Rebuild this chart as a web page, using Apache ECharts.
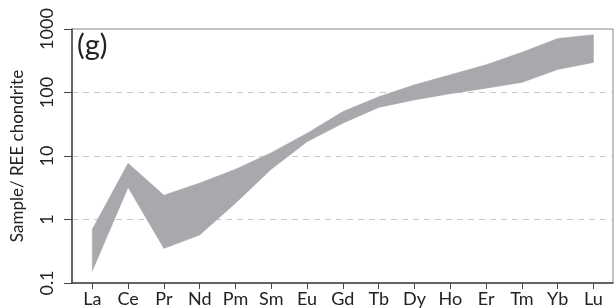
<!DOCTYPE html>
<html>
<head>
<meta charset="utf-8">
<script src="https://cdn.jsdelivr.net/npm/echarts@6/dist/echarts.min.js"></script>
<style>
  html, body { margin: 0; padding: 0; background: #fff; }
  #chart { width: 614px; height: 308px; }
</style>
</head>
<body>
<div id="chart"></div>
<script>
// REE pattern envelope, chondrite normalised
const elements = ['La', 'Ce', 'Pr', 'Nd', 'Pm', 'Sm', 'Eu', 'Gd', 'Tb', 'Dy', 'Ho', 'Er', 'Tm', 'Yb', 'Lu'];
const upperEnvelope = [0.70, 7.7, 2.42, 3.75, 6.2, 11.3, 22.8, 50, 86, 132, 190, 273, 430, 711, 813];
const lowerEnvelope = [0.155, 3.2, 0.35, 0.57, 1.81, 6.2, 16.8, 32.8, 58.3, 76.5, 96, 117, 144, 230, 297];
const yTicks = [0.1, 1, 10, 100, 1000];
const yTickLabels = ['0.1', '1', '10', '100', '1000'];
const panelLabel = '(g)';

const font = 'Lato, "Open Sans", sans-serif';
const bandColor = '#a8a9ac';
const xMin = -0.567;
const xMax = 14.545;
const elementIdx = elements.map((_, i) => i);

const chart = echarts.init(document.getElementById('chart'), null, { renderer: 'canvas' });

chart.setOption({
  animation: false,
  title: {
    text: panelLabel,
    left: 77,
    top: 31,
    padding: 0,
    textStyle: { fontFamily: font, fontSize: 29, fontWeight: 'normal', color: '#222' }
  },
  grid: {
    left: 72, right: 1, top: 29, bottom: 25,
    show: true, borderColor: '#888', borderWidth: 1, backgroundColor: 'transparent'
  },
  xAxis: {
    type: 'value',
    min: xMin,
    max: xMax,
    axisLine: { onZero: false, lineStyle: { color: '#444', width: 1.5 } },
    axisTick: { length: 6, customValues: elementIdx, lineStyle: { color: '#444' } },
    axisLabel: {
      customValues: elementIdx,
      formatter: v => elements[Math.round(v)],
      fontFamily: font,
      fontSize: 18,
      color: '#222',
      margin: 7
    },
    splitLine: { show: false }
  },
  yAxis: {
    type: 'log',
    logBase: 10,
    min: 0.1,
    max: 1000,
    name: 'Sample/ REE chondrite',
    nameLocation: 'middle',
    nameGap: 46,
    nameTextStyle: { fontFamily: font, fontSize: 17, color: '#222' },
    axisLine: { show: true, onZero: false, lineStyle: { color: '#444', width: 1.5 } },
    axisTick: { show: true, length: 8, lineStyle: { color: '#444' } },
    axisLabel: { show: false },
    splitLine: {
      show: true,
      showMinLine: false,
      showMaxLine: false,
      lineStyle: { color: '#c8c8c8', type: [6, 5], width: 1 }
    }
  },
  series: [
    {
      type: 'custom',
      z: 2,
      silent: true,
      data: [[0, 1]],
      renderItem: (params, api) => {
        const top = upperEnvelope.map((v, i) => api.coord([i, v]));
        const bottom = lowerEnvelope.map((v, i) => api.coord([i, v])).reverse();
        return {
          type: 'polygon',
          shape: { points: top.concat(bottom) },
          style: { fill: bandColor, stroke: bandColor, lineWidth: 0.5 }
        };
      }
    },
    {
      // vertical tick labels for the log axis
      type: 'custom',
      z: 3,
      silent: true,
      clip: false,
      data: yTicks.map(v => [xMin, v]),
      renderItem: (params, api) => {
        const p = api.coord([api.value(0), api.value(1)]);
        return {
          type: 'text',
          x: p[0] - 16,
          y: p[1],
          rotation: Math.PI / 2,
          style: {
            text: yTickLabels[params.dataIndex],
            fontFamily: '"Liberation Sans Narrow", Lato, sans-serif',
            fontSize: 18,
            fill: '#222',
            align: 'center',
            verticalAlign: 'bottom'
          }
        };
      }
    }
  ]
});

window.addEventListener('resize', () => chart.resize());
</script>
</body>
</html>
